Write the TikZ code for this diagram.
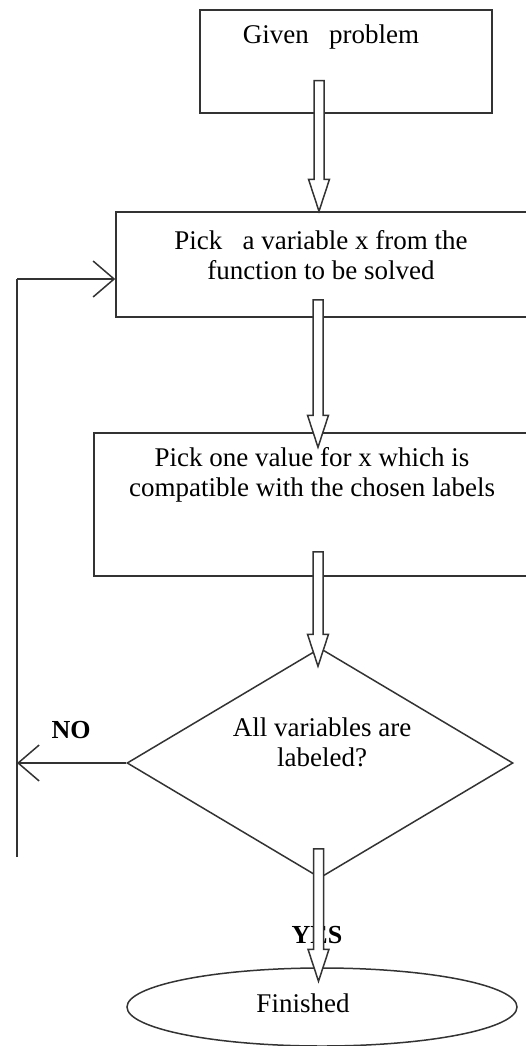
\documentclass[tikz,border=0pt]{standalone}
\usepackage{fontspec}
\setmainfont{Liberation Serif}
\usetikzlibrary{arrows.meta,shapes.geometric,calc}
\begin{document}
\begin{tikzpicture}[x=1pt,y=-1pt,
  line/.style={draw=black!80,line width=1.5pt},
  boxnode/.style={line,rectangle,inner sep=0pt},
  txt/.style={font=\fontsize{27}{30}\selectfont,align=center,inner sep=0pt},
  lbl/.style={font=\fontsize{26}{30}\selectfont\bfseries,inner sep=0pt},
  blk/.style={line,fill=white,to path={let \p1=(\tikztostart), \p2=(\tikztotarget) in
     (\x1-5pt,\y1) -- (\x1-5pt,\y2+32pt) -- (\x1-10.5pt,\y2+32pt) -- (\x1,\y2)
     -- (\x1+10.5pt,\y2+32pt) -- (\x1+5pt,\y2+32pt) -- (\x1+5pt,\y1) -- cycle}},
  opn/.style={line,-{Straight Barb[length=21pt,width=36pt]}}
]
\useasboundingbox (0,0) rectangle (526,1046);
\clip (0,0) rectangle (526,1046);
% boxes
\node[boxnode,minimum width=292pt,minimum height=103pt] (b1) at (346,61.5) {};
\node[txt] (t1) at (331,37) {Given\ \ \ problem};
\node[boxnode,minimum width=444pt,minimum height=105pt] (b2) at (338,264.5) {};
\node[txt] (t2) at (321,255) {Pick\ \ \ a variable x from the\\function to be solved};
\node[boxnode,minimum width=466pt,minimum height=143pt] (b3) at (327,504.5) {};
\node[txt] (t3) at (312,475) {Pick one value for x which is\\compatible with the chosen labels};
\node[line,diamond,minimum width=386pt,minimum height=230pt,inner sep=0pt] (d) at (320,763) {};
\node[txt] (t4) at (322,742) {All variables are\\labeled?};
\node[line,ellipse,minimum width=390pt,minimum height=78pt,inner sep=0pt] (e) at (322,1007) {};
\node[txt] (t5) at (303,1003) {Finished};
% labels
\node[lbl] (no) at (71,730) {NO};
\node[lbl] (yes) at (317,935) {YES};
% loop
\coordinate (lb) at (17,857);
\coordinate (lt) at (17,279);
\draw[line] (lb) -- (lt);
\draw[opn] (lt) -- (lt -| b2.west);
\draw[opn] (d.west) -- (d.west -| lt);
% block arrows
\draw[blk] ([xshift=-27pt,yshift=33pt]b1.south) to ([xshift=-19pt]b2.north);
\draw[blk] ([xshift=-20pt,yshift=18pt]b2.south) to ([xshift=-9pt,yshift=-15pt]b3.north);
\draw[blk] ([xshift=-9pt,yshift=25pt]b3.south) to ([xshift=-2pt,yshift=-19pt]d.north);
\draw[blk] ([xshift=-1.5pt,yshift=30pt]d.south) to ([xshift=-3.5pt,yshift=-14pt]e.north);
\end{tikzpicture}
\end{document}
